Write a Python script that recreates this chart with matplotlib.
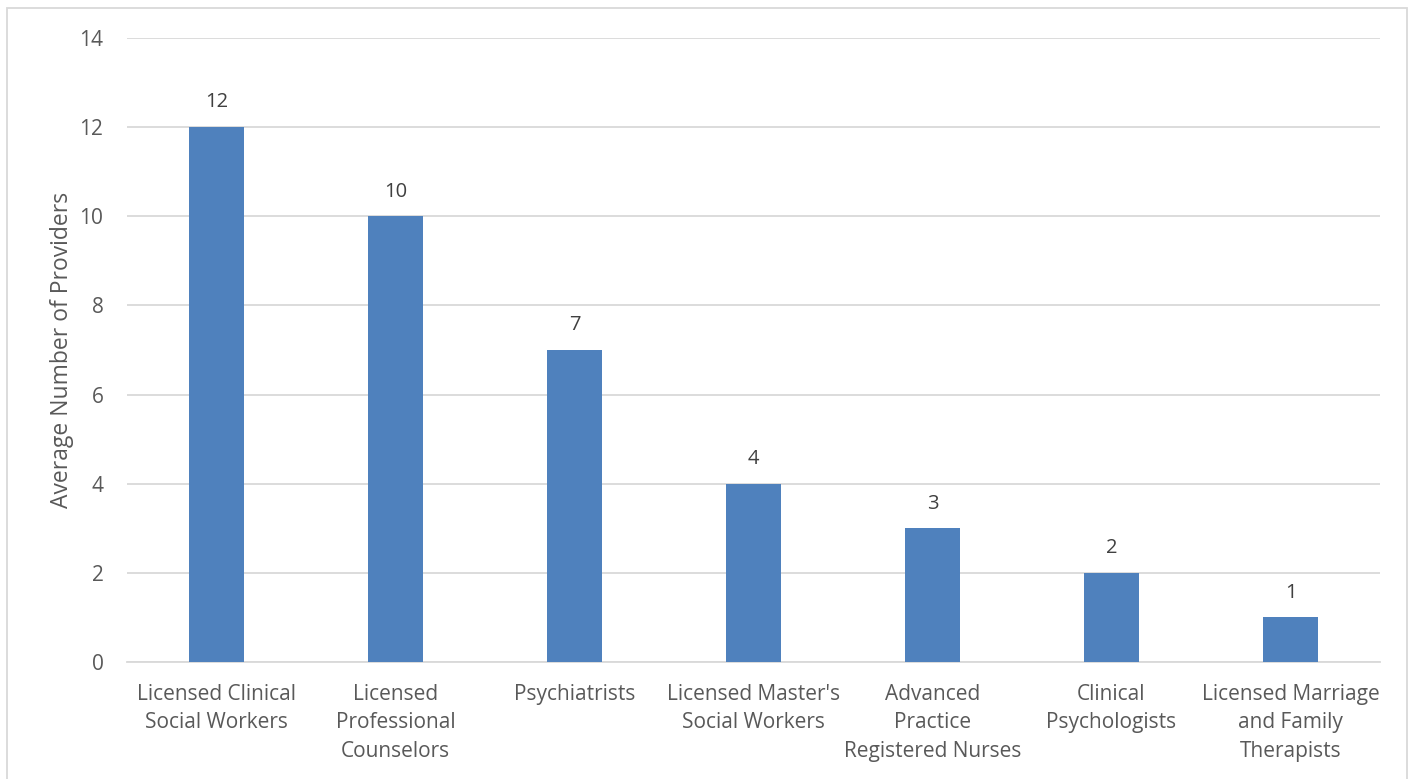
import numpy as np
import matplotlib.pyplot as plt
from matplotlib.patches import Rectangle

# Average number of providers by type
categories = [
    "Licensed Clinical\nSocial Workers",
    "Licensed\nProfessional\nCounselors",
    "Psychiatrists",
    "Licensed Master's\nSocial Workers",
    "Advanced\nPractice\nRegistered Nurses",
    "Clinical\nPsychologists",
    "Licensed Marriage\nand Family\nTherapists",
]
values = [12, 10, 7, 4, 3, 2, 1]
y_ticks = [0, 2, 4, 6, 8, 10, 12, 14]

plt.rcParams['font.family'] = ['Open Sans', 'DejaVu Sans']
text_col = '#595959'

fig = plt.figure(figsize=(14.09, 7.79), dpi=100)
ax = fig.add_axes([127 / 1409, 117 / 779, 1253 / 1409, 624 / 779])

x = np.arange(len(categories))
bars = ax.bar(x, values, width=0.31, color='#4F81BD', zorder=3)

for b, v in zip(bars, values):
    ax.text(b.get_x() + b.get_width() / 2, v + 0.33, str(v),
            ha='center', va='bottom', fontsize=14.5, color='#404040')

ax.set_xlim(-0.5, len(categories) - 0.5)
ax.set_ylim(0, 14)
ax.set_yticks(y_ticks)
ax.set_xticks(x)
ax.set_xticklabels(categories, fontsize=15, color=text_col, linespacing=1.45)
ax.tick_params(axis='y', labelsize=15, labelcolor=text_col, length=0, pad=17)
ax.tick_params(axis='x', length=0, pad=16)
ax.yaxis.grid(True, color='#D9D9D9', linewidth=1.3, zorder=0)
ax.set_axisbelow(True)
for s in ['top', 'right', 'left']:
    ax.spines[s].set_visible(False)
ax.spines['bottom'].set_color('#D9D9D9')
ax.spines['bottom'].set_linewidth(1.3)

ax.set_ylabel('Average Number of Providers', fontsize=16.5, color=text_col, labelpad=4)

# light chart border
fig.patches.append(Rectangle((7 / 1409, -0.05), 1400 / 1409, 1.05 - 8 / 779,
                             transform=fig.transFigure, fill=False,
                             edgecolor='#D9D9D9', linewidth=1.3))

fig.savefig('out.png', dpi=100, facecolor='white')
